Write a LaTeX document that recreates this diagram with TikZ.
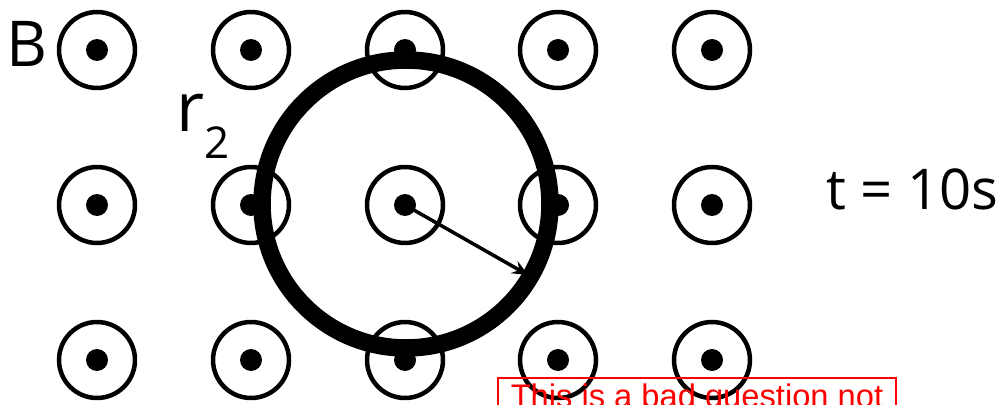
\documentclass[tikz,border=0pt]{standalone}
\usepackage{fontspec}
\setmainfont{Open Sans}
\newfontfamily\avisofont{Liberation Sans}
\usepackage{tikz}
\usetikzlibrary{arrows.meta,positioning}
\definecolor{avisoRed}{HTML}{FF0000}
\tikzset{
  campo/.style={draw=black, line width=0.09cm, circle, minimum size=1.52cm, inner sep=0pt, path picture={\fill[black] (path picture bounding box.center) circle (0.22cm);}},
  anillo/.style={draw=black, line width=0.35cm, circle, minimum size=5.76cm, inner sep=0pt},
  radio/.style={-{Stealth[length=3.2mm, width=2.8mm, inset=1.2mm]}, line width=0.07cm},
  etiqueta/.style={inner sep=0pt, anchor=base west},
  aviso/.style={draw=avisoRed, line width=0.04cm, anchor=north west, text=avisoRed, font=\avisofont\fontsize{18.6pt}{22pt}\selectfont, minimum width=7.96cm, inner xsep=0.14cm, inner ysep=0.12cm},
}

\begin{document}
\begin{tikzpicture}[x=0.02cm, y=-0.02cm]
\clip (0,0) rectangle (1003,405);
% Campo B (fila superior)
\node[campo] (f1c1) at (97,50) {};
\node[campo] (f1c2) at (251,50) {};
\node[campo] (f1c3) at (405,50) {};
\node[campo] (f1c4) at (558,50) {};
\node[campo] (f1c5) at (712,50) {};
% fila central
\node[campo] (f2c1) at (97,205) {};
\node[campo] (f2c2) at (251,205) {};
\node[campo] (f2c3) at (405,205) {};
\node[campo] (f2c4) at (558,205) {};
\node[campo] (f2c5) at (712,205) {};
% fila inferior
\node[campo] (f3c1) at (97,360) {};
\node[campo] (f3c2) at (251,360) {};
\node[campo] (f3c3) at (405,360) {};
\node[campo] (f3c4) at (558,360) {};
\node[campo] (f3c5) at (712,360) {};

% Espira
\node[anillo] (espira) at (406,204) {};
\coordinate (punta) at (528,275);
\draw[radio] (f2c3.center) -- (punta);

% Etiquetas
\node[etiqueta, font=\fontsize{36pt}{40pt}\selectfont] (lblB) at (6,67) {B};
\node[etiqueta, font=\fontsize{39pt}{42pt}\selectfont] (lblr) at (176,132) {r\raisebox{-14.8pt}{\fontsize{25pt}{28pt}\selectfont 2}};
\node[etiqueta, font=\fontsize{32pt}{36pt}\selectfont] (lblt) at (826,210) {t = 10s};

\node[aviso] (nota) at (497,377) {This is a bad question not};
\end{tikzpicture}
\end{document}
